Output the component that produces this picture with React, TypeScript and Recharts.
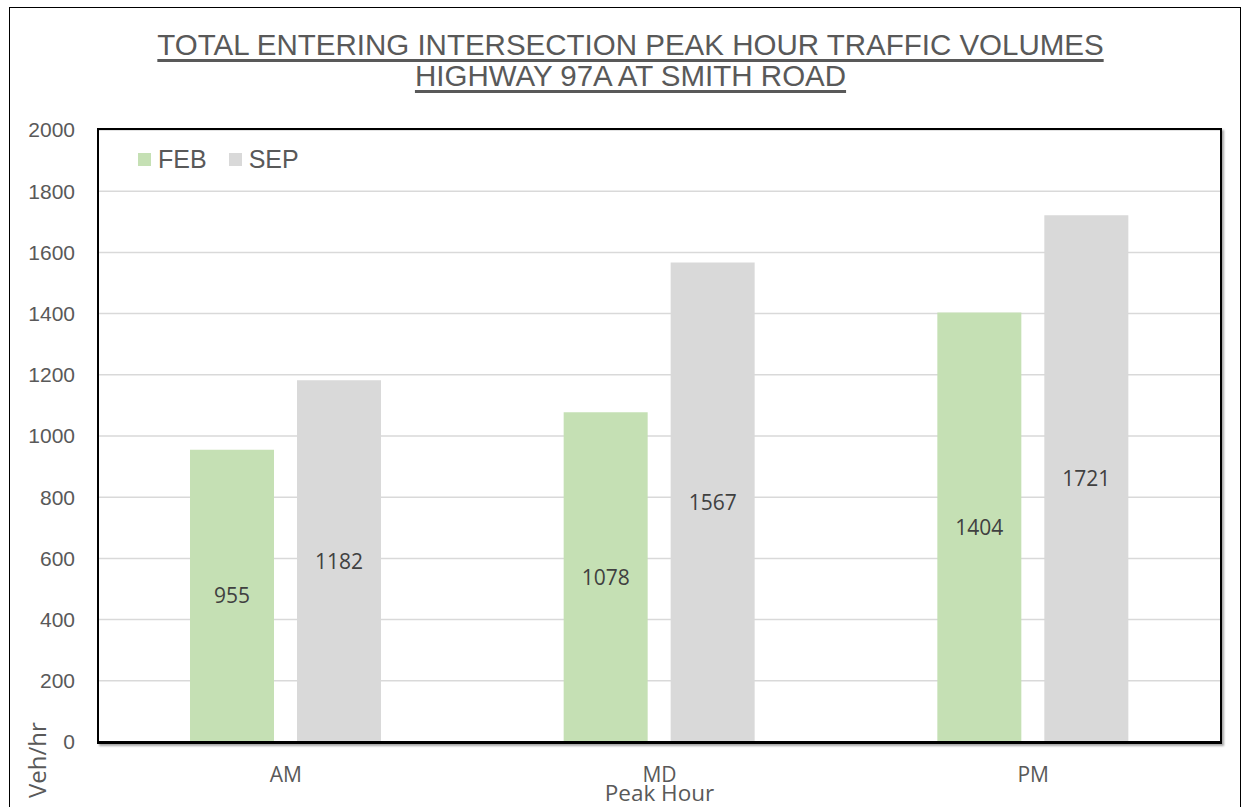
import React from 'react';
import { BarChart, Bar, XAxis, YAxis, CartesianGrid, Legend, LabelList, Label } from 'recharts';

const categories = ['AM', 'MD', 'PM'];
const febValues = [955, 1078, 1404];
const sepValues = [1182, 1567, 1721];
const yTicks = [0, 200, 400, 600, 800, 1000, 1200, 1400, 1600, 1800, 2000];
const titleLines = ['TOTAL ENTERING INTERSECTION PEAK HOUR TRAFFIC VOLUMES', 'HIGHWAY 97A AT SMITH ROAD'];

const data = categories.map((c, i) => ({ name: c, FEB: febValues[i], SEP: sepValues[i] }));

const ARIAL = '"Liberation Sans", Arial, sans-serif';
const SEGOE = '"Open Sans", "Noto Sans", sans-serif';

const LegendContent = (props: any) => {
  const payload = props.payload || [];
  return (
    <div style={{ display: 'flex', alignItems: 'center', fontFamily: ARIAL, fontSize: 25, color: '#595959' }}>
      {payload.map((p: any, i: number) => (
        <div key={i} style={{ display: 'flex', alignItems: 'center', marginRight: 22 }}>
          <span style={{ display: 'inline-block', width: 13, height: 13, background: p.color, marginRight: 7 }} />
          <span>{p.value}</span>
        </div>
      ))}
    </div>
  );
};

const YLabel = (props: any) => {
  const vb = props.viewBox || {};
  const x = vb.x + 37;
  const y = vb.y + vb.height + 56;
  return (
    <text x={x} y={y} transform={`rotate(-90, ${x}, ${y})`} fontFamily={SEGOE} fontSize={24} fill="#595959" textAnchor="start">
      Veh/hr
    </text>
  );
};

export default function App() {
  return (
    <div style={{ position: 'absolute', left: 0, top: 0, width: 1243, height: 807, background: '#fff', overflow: 'hidden' }}>
      <div style={{ position: 'absolute', left: 9, top: 7, width: 1230, height: 810, borderTop: '1.5px solid #000', borderLeft: '1.5px solid #000', borderRight: '1.5px solid #000' }} />
      <div style={{ position: 'absolute', left: 0, top: 29, width: 1261, textAlign: 'center', fontFamily: ARIAL, fontSize: 29.5, lineHeight: '31px', color: '#595959' }}>
        {titleLines.map((t, i) => (
          <div key={i} style={{ textDecoration: 'underline', textDecorationThickness: '3px', textUnderlineOffset: '4px' }}>{t}</div>
        ))}
      </div>
      <div style={{ position: 'absolute', left: 0, top: 0 }}>
        <BarChart width={1243} height={807} data={data} margin={{ top: 130, right: 23, bottom: 0, left: 9 }} barGap={23} barSize={84}>
          <CartesianGrid vertical={false} stroke="#d9d9d9" strokeWidth={1.5} />
          <XAxis
            dataKey="name"
            height={65}
            axisLine={{ stroke: '#000', strokeWidth: 2 }}
            tickLine={false}
            tickSize={0}
            tickMargin={25}
            tick={{ fill: '#595959', fontSize: 21, fontFamily: SEGOE }}
          >
            <Label value="Peak Hour" position="insideBottom" offset={6} fill="#595959" fontSize={22.5} fontFamily={SEGOE} />
          </XAxis>
          <YAxis
            width={90}
            domain={[0, 2000]}
            ticks={yTicks}
            axisLine={false}
            tickLine={false}
            tickSize={0}
            tickMargin={24}
            tick={{ fill: '#595959', fontSize: 21, fontFamily: ARIAL }}
          >
            <Label content={<YLabel />} />
          </YAxis>
          <Legend
            layout="horizontal"
            verticalAlign="middle"
            align="center"
            content={<LegendContent />}
            wrapperStyle={{ top: 145, left: 138, width: 'auto', height: 'auto' }}
          />
          <Bar dataKey="FEB" name="FEB" fill="#c5e0b4" isAnimationActive={false}>
            <LabelList dataKey="FEB" position="center" fill="#404040" fontSize={21} fontFamily={SEGOE} />
          </Bar>
          <Bar dataKey="SEP" name="SEP" fill="#d9d9d9" isAnimationActive={false}>
            <LabelList dataKey="SEP" position="center" fill="#404040" fontSize={21} fontFamily={SEGOE} />
          </Bar>
        </BarChart>
      </div>
      <div style={{ position: 'absolute', left: 98, top: 129, width: 1121, height: 612, border: '2px solid #000', boxShadow: '2px 2px 2px rgba(0,0,0,0.35)', pointerEvents: 'none', boxSizing: 'content-box', marginLeft: -1, marginTop: -1 }} />
    </div>
  );
}
